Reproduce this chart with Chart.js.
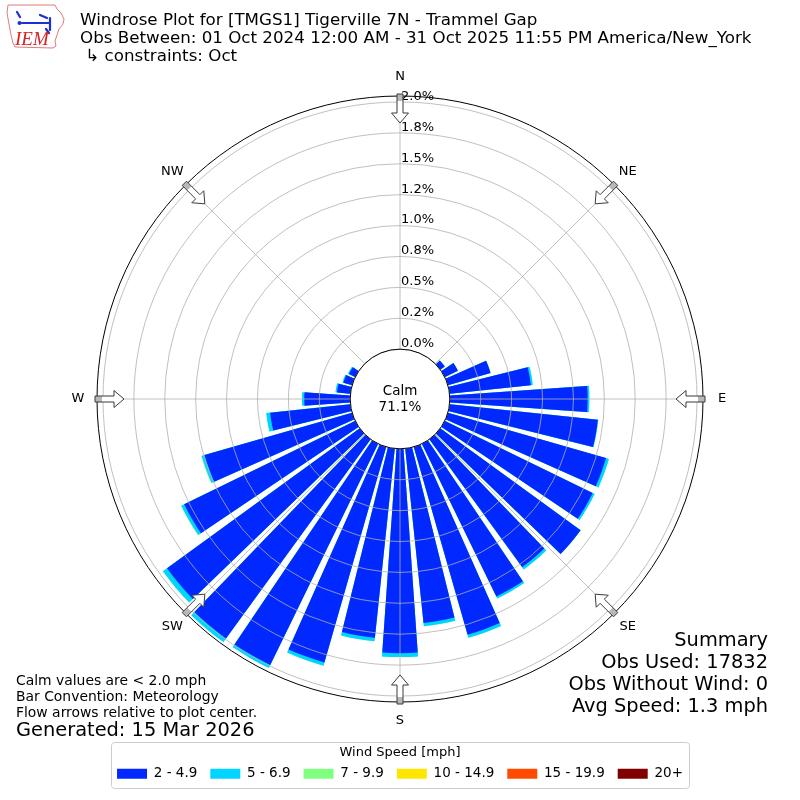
<!DOCTYPE html>
<html lang="en">
<head>
<meta charset="UTF-8">
<title>Windrose Plot - Tigerville 7N</title>
<script src="https://cdn.jsdelivr.net/npm/chart.js@4"></script>
<style>
  body { margin: 0; background: #fff; }
  #wrap { position: relative; width: 800px; height: 800px; font-family: 'DejaVu Sans', sans-serif; color: #000; }
  #wrap canvas { position: absolute; left: 0; top: 0; }
  .txt { position: absolute; white-space: pre; }
  .head { left: 80px; top: 10px; font-size: 16.7px; line-height: 18px; }
  .notes { left: 16px; top: 672px; font-size: 13.9px; line-height: 16px; }
  .stamp { left: 16px; top: 719px; font-size: 19.4px; line-height: 22px; }
  .summary { right: 32px; top: 629px; font-size: 19.4px; line-height: 22px; text-align: right; }
  .logo { position: absolute; left: 0; top: 0; }
</style>
</head>
<body>
<div id="wrap">
  <canvas id="rose" width="800" height="800"></canvas>
  <svg class="logo" width="70" height="55" viewBox="0 0 70 55">
    <path d="M8 5 L55 5 L57 9 L61 13 L64 19 L63 24 L59 29 L57 35 L55 41 L56 46 L53 48 L15 47 L13 43 L11 35 L9 24 L7 13 Z"
          fill="#fff" stroke="#e07a7a" stroke-width="1"/>
    <path d="M17 12 L20 17 M22 23 L50 23 M40 15 L47 18 M50 18 L50 30 M46 29 L49 33"
          stroke="#1c2fd6" stroke-width="2.2" fill="none" stroke-linecap="round"/>
    <circle cx="19.5" cy="23" r="2" fill="#1c2fd6"/>
    <text x="15" y="45" font-family="Liberation Serif" font-style="italic" font-size="19" fill="#d42222">IEM</text>
  </svg>
  <div class="txt head">Windrose Plot for [TMGS1] Tigerville 7N - Trammel Gap
Obs Between: 01 Oct 2024 12:00 AM - 31 Oct 2025 11:55 PM America/New_York
 ↳ constraints: Oct</div>
  <div class="txt notes">Calm values are &lt; 2.0 mph
Bar Convention: Meteorology
Flow arrows relative to plot center.</div>
  <div class="txt stamp">Generated: 15 Mar 2026</div>
  <div class="txt summary">Summary
Obs Used: 17832
Obs Without Wind: 0
Avg Speed: 1.3 mph</div>
</div>
<script>
// direction bins (degrees, meteorological: direction the wind blows from)
const directions = [0, 10, 20, 30, 40, 50, 60, 70, 80, 90, 100, 110,
                    120, 130, 140, 150, 160, 170, 180, 190, 200, 210, 220, 230,
                    240, 250, 260, 270, 280, 290, 300, 310, 320, 330, 340, 350];

// frequency [%] per speed bin
const speed2to5 = [0, 0, 0, 0, 0, 0.045, 0.118, 0.359, 0.661, 1.115, 1.206, 1.331,
                   1.331, 1.403, 1.278, 1.375, 1.581, 1.419, 1.653, 1.540, 1.815, 1.992, 1.992, 1.927,
                   1.540, 1.242, 0.653, 0.371, 0.109, 0.073, 0.056, 0, 0, 0, 0, 0];
const speed5to7 = [0, 0, 0, 0, 0, 0, 0, 0, 0.016, 0.014, 0.004, 0.024,
                   0.018, 0, 0.023, 0.018, 0.026, 0.026, 0.032, 0.028, 0.027, 0.026, 0.036, 0.041,
                   0.025, 0.024, 0.032, 0.019, 0.012, 0.008, 0.009, 0, 0, 0, 0, 0];
const speed7to10 = [0, 0, 0, 0, 0, 0, 0, 0, 0, 0, 0, 0,
                    0, 0, 0, 0, 0, 0, 0, 0, 0, 0, 0, 0,
                    0.004, 0.004, 0, 0, 0, 0, 0, 0, 0, 0, 0, 0];

const speedBins = ['2 - 4.9', '5 - 6.9', '7 - 9.9', '10 - 14.9', '15 - 19.9', '20+'];
const binColors = ['#0028ff', '#00d5ff', '#80ff80', '#ffe600', '#ff4a00', '#800000'];

const tickValues = [0, 0.25, 0.5, 0.75, 1.0, 1.25, 1.5, 1.75, 2.0];
const tickLabels = ['0.0%', '0.2%', '0.5%', '0.8%', '1.0%', '1.2%', '1.5%', '1.8%', '2.0%'];

const compassNames = ['N', 'NE', 'E', 'SE', 'S', 'SW', 'W', 'NW'];
const compassAngles = [0, 45, 90, 135, 180, 225, 270, 315];
const calmLabel = ['Calm', '71.1%'];

const FONT = 'DejaVu Sans';
const barDeg = 8, gapDeg = 2;   // each 10 deg sector: 8 deg bar + 2 deg gap

// polarArea wants one slice per label, so put an empty slice between bars
const labels = [];
directions.forEach(d => labels.push(d + '°', ''));

let running = directions.map(() => 0);
const datasets = [speed2to5, speed5to7, speed7to10].map((vals, k) => {
    running = running.map((s, i) => s + vals[i]);   // stacked: outer edge = cumulative
    const data = [];
    running.forEach(v => data.push(v, null));
    return {
        label: speedBins[k],
        data: data,
        backgroundColor: binColors[k],
        borderWidth: 0,
        angle: c => (c.dataIndex % 2 ? gapDeg : barDeg)
    };
});

function toXY(cx, cy, deg, u, v) {
    const t = deg * Math.PI / 180;
    return [cx + u * Math.sin(t) + v * Math.cos(t), cy - u * Math.cos(t) + v * Math.sin(t)];
}

function polyPath(ctx, cx, cy, deg, pts) {
    ctx.beginPath();
    pts.forEach(([u, v], i) => {
        const [x, y] = toXY(cx, cy, deg, u, v);
        if (i) ctx.lineTo(x, y); else ctx.moveTo(x, y);
    });
    ctx.closePath();
}

const roseDecor = {
    id: 'roseDecor',
    afterDraw(chart) {
        const ctx = chart.ctx;
        const sc = chart.scales.r;
        const cx = sc.xCenter, cy = sc.yCenter, R = sc.drawingArea;
        const calmR = sc.getDistanceFromCenterForValue(0);
        ctx.save();

        // compass spokes
        ctx.strokeStyle = '#b0b0b0';
        ctx.lineWidth = 0.8;
        compassAngles.forEach(a => {
            const [x, y] = toXY(cx, cy, a, R, 0);
            ctx.beginPath();
            ctx.moveTo(cx, cy);
            ctx.lineTo(x, y);
            ctx.stroke();
        });

        // calm circle
        ctx.beginPath();
        ctx.arc(cx, cy, calmR, 0, Math.PI * 2);
        ctx.fillStyle = '#fff';
        ctx.fill();
        ctx.strokeStyle = '#000';
        ctx.lineWidth = 1;
        ctx.stroke();

        // outer frame
        ctx.beginPath();
        ctx.arc(cx, cy, R, 0, Math.PI * 2);
        ctx.stroke();

        // radial tick labels along the north spoke
        ctx.fillStyle = '#000';
        ctx.font = '13px "' + FONT + '"';
        ctx.textAlign = 'left';
        ctx.textBaseline = 'bottom';
        tickValues.forEach((v, i) => {
            ctx.fillText(tickLabels[i], cx + 1, cy - sc.getDistanceFromCenterForValue(v) + 1);
        });

        // compass names
        ctx.textAlign = 'center';
        ctx.textBaseline = 'middle';
        compassAngles.forEach((a, i) => {
            const [x, y] = toXY(cx, cy, a, R + 19, 0);
            ctx.fillText(compassNames[i], x, y);
        });

        // flow arrows pointing to the centre
        const arrow = [[R + 2, -3], [R - 17, -3], [R - 17, -8.5], [R - 27, 0],
                       [R - 17, 8.5], [R - 17, 3], [R + 2, 3]];
        compassAngles.forEach(a => {
            polyPath(ctx, cx, cy, a, arrow);
            ctx.fillStyle = '#fff';
            ctx.fill();
            polyPath(ctx, cx, cy, a, [[R + 2, -3], [R - 5, -3], [R - 5, 3], [R + 2, 3]]);
            ctx.fillStyle = '#b8b8b8';
            ctx.fill();
            polyPath(ctx, cx, cy, a, arrow);
            ctx.strokeStyle = '#3a3a3a';
            ctx.lineWidth = 1;
            ctx.stroke();
        });

        // calm percentage
        ctx.fillStyle = '#000';
        ctx.font = '13.5px "' + FONT + '"';
        ctx.fillText(calmLabel[0], cx, cy - 8);
        ctx.fillText(calmLabel[1], cx, cy + 8);

        // frame around the legend
        const lg = chart.legend;
        if (lg && lg.legendHitBoxes.length) {
            const hb = lg.legendHitBoxes;
            const left = Math.min(...hb.map(h => h.left)) - 6;
            const right = Math.max(...hb.map(h => h.left + h.width)) + 6;
            const itemMid = hb[0].top + hb[0].height / 2;
            ctx.beginPath();
            ctx.roundRect(Math.round(left) + 0.5, Math.round(itemMid - 32) + 0.5,
                          Math.round(right - left), 46, 3);
            ctx.strokeStyle = '#cccccc';
            ctx.lineWidth = 1;
            ctx.stroke();
        }
        ctx.restore();
    }
};

Chart.defaults.font.family = FONT;

new Chart(document.getElementById('rose'), {
    type: 'polarArea',
    data: { labels: labels, datasets: datasets },
    options: {
        responsive: false,
        devicePixelRatio: 1,
        animation: false,
        events: [],
        layout: { padding: { left: 96, right: 96, top: 96, bottom: 9.4 } },
        scales: {
            r: {
                min: -0.4032,
                max: 2.0484,
                startAngle: -barDeg / 2,
                afterBuildTicks: s => { s.ticks = tickValues.map(v => ({ value: v })); },
                ticks: { display: false },
                grid: { circular: true, color: '#b0b0b0', lineWidth: 0.8, z: 1 },
                angleLines: { display: false },
                pointLabels: { display: false }
            }
        },
        plugins: {
            tooltip: { enabled: false },
            legend: {
                position: 'bottom',
                onClick: null,
                title: {
                    display: true,
                    text: 'Wind Speed [mph]',
                    color: '#000',
                    font: { family: FONT, size: 13 },
                    padding: { top: 43, bottom: -8 }
                },
                labels: {
                    boxWidth: 30,
                    boxHeight: 10,
                    padding: 13,
                    color: '#000',
                    font: { family: FONT, size: 13.5 },
                    generateLabels: () => speedBins.map((b, i) => ({
                        text: b,
                        fillStyle: binColors[i],
                        strokeStyle: binColors[i],
                        lineWidth: 0,
                        hidden: false,
                        index: i
                    }))
                }
            }
        }
    },
    plugins: [roseDecor]
});
</script>
</body>
</html>
